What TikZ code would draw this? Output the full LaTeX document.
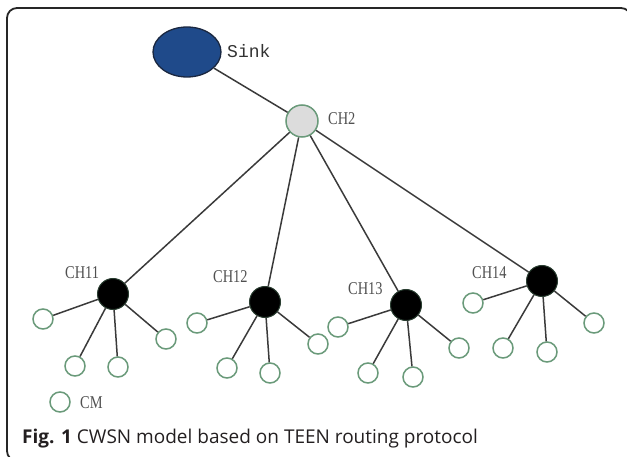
\documentclass[tikz,border=0pt]{standalone}
\usepackage{fontspec}
\setmainfont{Liberation Serif}
\newfontfamily\capfont{Open Sans}
\newfontfamily\labfont{Liberation Serif}
\newfontfamily\monofont{Liberation Mono}
\usetikzlibrary{shapes.geometric}
\definecolor{sinkblue}{HTML}{1F4A8A}
\definecolor{sinkedge}{HTML}{1A2740}
\definecolor{nodegreen}{HTML}{6A9A7A}
\definecolor{linegray}{HTML}{3A3A3A}
\definecolor{labgray}{HTML}{505050}
\definecolor{chgray}{HTML}{DCDCDC}
\definecolor{captext}{HTML}{231F20}
\tikzset{
  leaf/.style={circle, draw=nodegreen, line width=1.5pt, fill=white, minimum size=20pt, inner sep=0pt},
  headnode/.style={circle, draw=nodegreen!40!black, line width=1pt, fill=black, minimum size=31pt, inner sep=0pt},
  topnode/.style={circle, draw=nodegreen, line width=1.5pt, fill=chgray, minimum size=32pt, inner sep=0pt},
  sinknode/.style={ellipse, draw=sinkedge, line width=1.3pt, fill=sinkblue, minimum width=68pt, minimum height=50pt, inner sep=0pt},
  link/.style={draw=linegray, line width=1.5pt},
  lab/.style={text=labgray, font=\labfont\fontsize{18}{18}\selectfont, xscale=0.8, inner sep=0pt},
}
\begin{document}
\begin{tikzpicture}[x=1pt,y=-1pt]
\useasboundingbox (0,0) rectangle (627,457);
\begin{scope}
\clip (0,0) rectangle (627,457);
\draw[line width=1.8pt, draw=black!85, rounded corners=10pt] (7,8) rectangle (631,461);
\end{scope}
% nodes
\node[sinknode] (sink) at (187,52) {};
\node[topnode] (ch2) at (302,121) {};
\node[headnode] (ch11) at (113,294) {};
\node[headnode] (ch12) at (265,302) {};
\node[headnode] (ch13) at (406,305) {};
\node[headnode] (ch14) at (542,281) {};
% leaves CH11
\node[leaf] (a1) at (43,319) {};
\node[leaf] (a2) at (75,366) {};
\node[leaf] (a3) at (118,367) {};
\node[leaf] (a4) at (166,339) {};
% leaves CH12
\node[leaf] (b1) at (197,323) {};
\node[leaf] (b2) at (227,368) {};
\node[leaf] (b3) at (270,373) {};
\node[leaf] (b4) at (318,344) {};
% leaves CH13
\node[leaf] (c1) at (338,327) {};
\node[leaf] (c2) at (368,373) {};
\node[leaf] (c3) at (413,377) {};
\node[leaf] (c4) at (459,348) {};
% leaves CH14
\node[leaf] (d1) at (473,303) {};
\node[leaf] (d2) at (503,348) {};
\node[leaf] (d3) at (547,352) {};
\node[leaf] (d4) at (594,323) {};
% legend
\node[leaf] (cm) at (60,402) {};
% links
\draw[link] (sink) -- (ch2);
\foreach \c in {ch11,ch12,ch13,ch14} \draw[link] (ch2) -- (\c);
\foreach \l in {a1,a2,a3,a4} \draw[link] (ch11) -- (\l);
\foreach \l in {b1,b2,b3,b4} \draw[link] (ch12) -- (\l);
\foreach \l in {c1,c2,c3,c4} \draw[link] (ch13) -- (\l);
\foreach \l in {d1,d2,d3,d4} \draw[link] (ch14) -- (\l);
% labels
\node[anchor=west, inner sep=0pt, text=black!80, font=\monofont\fontsize{18}{18}\selectfont] (sinklab) at (227,51) {Sink};
\node[lab, anchor=west] (ch2lab) at (328,119) {CH2};
\node[lab, anchor=west] (ch11lab) at (65,273) {CH11};
\node[lab, anchor=west] (ch12lab) at (213,277) {CH12};
\node[lab, anchor=west] (ch13lab) at (348,289) {CH13};
\node[lab, anchor=west] (ch14lab) at (472,273) {CH14};
\node[lab, anchor=west] (cmlab) at (80,403) {CM};
% caption
\node[anchor=base west, inner sep=0pt, text=captext, font=\capfont\fontsize{19}{19}\selectfont] (cap) at (22,443) {\textbf{Fig. 1} CWSN model based on TEEN routing protocol};
\end{tikzpicture}
\end{document}
